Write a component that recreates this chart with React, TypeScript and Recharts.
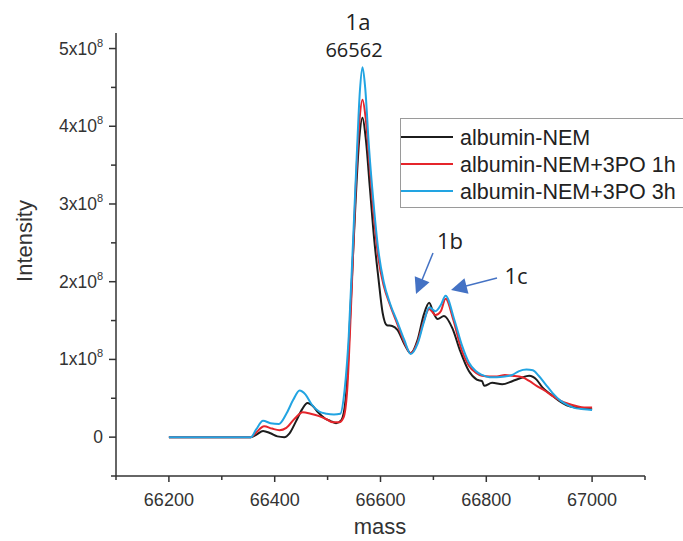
import React from 'react';
import { LineChart, Line, XAxis, YAxis } from 'recharts';

// intensity values are in units of 1x10^8
const blackMass = [66200, 66355, 66365, 66378, 66392, 66405, 66418, 66428, 66440, 66452, 66462, 66472, 66482, 66495, 66505, 66516, 66526, 66535, 66544, 66553, 66560, 66566, 66572, 66580, 66588, 66596, 66604, 66612, 66622, 66632, 66645, 66657, 66670, 66682, 66692, 66700, 66708, 66720, 66736, 66750, 66767, 66782, 66792, 66796, 66811, 66830, 66849, 66865, 66881, 66895, 66906, 66922, 66937, 66952, 66968, 66985, 67000];
const blackInt = [0, 0, 0.03, 0.08, 0.05, 0.01, 0, 0.05, 0.2, 0.36, 0.44, 0.4, 0.32, 0.24, 0.21, 0.18, 0.22, 0.55, 1.75, 3.05, 3.85, 4.11, 3.85, 3.2, 2.55, 2.05, 1.6, 1.44, 1.43, 1.38, 1.2, 1.08, 1.25, 1.58, 1.73, 1.6, 1.52, 1.56, 1.4, 1.12, 0.85, 0.74, 0.72, 0.66, 0.7, 0.68, 0.72, 0.76, 0.79, 0.74, 0.64, 0.55, 0.47, 0.41, 0.38, 0.37, 0.36];

const redMass = [66200, 66355, 66365, 66380, 66395, 66409, 66422, 66438, 66453, 66468, 66484, 66498, 66510, 66522, 66530, 66537, 66545, 66553, 66560, 66566, 66572, 66580, 66588, 66596, 66606, 66618, 66632, 66645, 66657, 66670, 66682, 66692, 66704, 66714, 66723, 66738, 66752, 66767, 66780, 66792, 66806, 66820, 66835, 66849, 66868, 66882, 66895, 66910, 66925, 66940, 66955, 66970, 66985, 67000];
const redInt = [0, 0, 0.06, 0.14, 0.11, 0.09, 0.12, 0.24, 0.32, 0.3, 0.27, 0.23, 0.19, 0.19, 0.25, 0.6, 1.8, 3.2, 4.05, 4.34, 4.1, 3.45, 2.8, 2.3, 1.95, 1.7, 1.45, 1.22, 1.08, 1.22, 1.5, 1.65, 1.57, 1.62, 1.78, 1.5, 1.15, 0.92, 0.83, 0.79, 0.78, 0.78, 0.8, 0.79, 0.77, 0.72, 0.66, 0.6, 0.53, 0.47, 0.43, 0.4, 0.38, 0.38];

const blueMass = [66200, 66355, 66365, 66378, 66392, 66408, 66422, 66435, 66447, 66458, 66470, 66484, 66498, 66512, 66524, 66532, 66540, 66548, 66555, 66561, 66566, 66571, 66578, 66587, 66596, 66606, 66618, 66632, 66645, 66657, 66670, 66682, 66692, 66704, 66714, 66723, 66740, 66754, 66767, 66780, 66792, 66806, 66820, 66835, 66849, 66862, 66876, 66888, 66899, 66912, 66925, 66940, 66955, 66970, 66985, 67000];
const blueInt = [0, 0, 0.1, 0.21, 0.18, 0.17, 0.3, 0.48, 0.6, 0.55, 0.42, 0.33, 0.3, 0.29, 0.3, 0.6, 1.3, 2.5, 3.6, 4.45, 4.76, 4.5, 3.75, 3.0, 2.4, 2.0, 1.72, 1.48, 1.25, 1.07, 1.2, 1.48, 1.67, 1.62, 1.7, 1.82, 1.5, 1.18, 0.96, 0.85, 0.8, 0.77, 0.77, 0.78, 0.8, 0.85, 0.87, 0.86, 0.79, 0.68, 0.57, 0.47, 0.41, 0.37, 0.36, 0.35];

const seriesNames = ['albumin-NEM', 'albumin-NEM+3PO 1h', 'albumin-NEM+3PO 3h'];
const seriesColors = ['#1c1c1c', '#e5252b', '#22a4e2'];

const xTicks = [66100, 66200, 66300, 66400, 66500, 66600, 66700, 66800, 66900, 67000, 67100];
const yTicks = [-0.5, 0, 0.5, 1, 1.5, 2, 2.5, 3, 3.5, 4, 4.5, 5];

const toPoints = (m: number[], v: number[]) => m.map((x, i) => ({ mass: x, intensity: v[i] }));

const series = [
  { name: seriesNames[0], color: seriesColors[0], data: toPoints(blackMass, blackInt) },
  { name: seriesNames[1], color: seriesColors[1], data: toPoints(redMass, redInt) },
  { name: seriesNames[2], color: seriesColors[2], data: toPoints(blueMass, blueInt) },
];

const FONT = '"Liberation Sans", Arial, sans-serif';
const TEXT = '#333';
const AXIS = '#333';

const XTick = (props: any) => {
  const { x, y, payload } = props;
  const v = payload.value;
  const major = v % 200 === 0;
  return (
    <g>
      <line x1={x} x2={x} y1={y} y2={y + (major ? 6 : 4)} stroke={AXIS} strokeWidth={1.5} />
      {major && (
        <text x={x} y={y + 30} textAnchor="middle" fontSize={18} fill={TEXT} fontFamily={FONT}>
          {v}
        </text>
      )}
    </g>
  );
};

const YTick = (props: any) => {
  const { x, y, payload } = props;
  const v = payload.value;
  const major = Number.isInteger(v);
  return (
    <g>
      <line x1={x - (major ? 7 : 5)} x2={x} y1={y} y2={y} stroke={AXIS} strokeWidth={1.5} />
      {major && (
        <text x={x - 13} y={y + 6} textAnchor="end" fontSize={17.5} fill={TEXT} fontFamily={FONT}>
          {v === 0 ? (
            '0'
          ) : (
            <>
              <tspan>{`${v}x10`}</tspan>
              <tspan dy={-8} fontSize={11}>8</tspan>
            </>
          )}
        </text>
      )}
    </g>
  );
};

const arrowHead = (tx: number, ty: number, fx: number, fy: number) => {
  const dx = tx - fx;
  const dy = ty - fy;
  const len = Math.hypot(dx, dy);
  const ux = dx / len;
  const uy = dy / len;
  const bx = tx - ux * 16;
  const by = ty - uy * 16;
  const px = -uy * 8;
  const py = ux * 8;
  return `${tx},${ty} ${bx + px},${by + py} ${bx - px},${by - py}`;
};

const Annotations = () => (
  <svg width={683} height={541} style={{ position: 'absolute', left: 0, top: 0, pointerEvents: 'none' }}>
    <g fontFamily='"Open Sans", "Noto Sans", sans-serif' fill="#222">
      <text x={358} y={30} textAnchor="middle" fontSize={22}>1a</text>
      <text x={354} y={57} textAnchor="middle" fontSize={20}>66562</text>
      <text x={450} y={249} textAnchor="middle" fontSize={22}>1b</text>
      <text x={516} y={284} textAnchor="middle" fontSize={22}>1c</text>
    </g>
    <line x1={433} y1={253} x2={422} y2={280} stroke="#4472c4" strokeWidth={1.5} />
    <polygon points={arrowHead(416, 294, 433, 253)} fill="#4472c4" />
    <line x1={497} y1={278} x2={466} y2={286} stroke="#4472c4" strokeWidth={1.5} />
    <polygon points={arrowHead(451, 290, 497, 278)} fill="#4472c4" />
    <g fontFamily={FONT} fontSize={21.5} fill="#222">
      <rect x={400.5} y={118.5} width={300} height={89} fill="#fff" stroke="#9a9a9a" strokeWidth={1} />
      {seriesNames.map((n, i) => (
        <g key={n}>
          <line x1={401} x2={453} y1={137 + i * 27} y2={137 + i * 27} stroke={seriesColors[i]} strokeWidth={2} />
          <text x={460} y={144.5 + i * 27}>{n}</text>
        </g>
      ))}
    </g>
    <text x={24} y={241} transform="rotate(-90 24 241)" textAnchor="middle" dominantBaseline="central" fontSize={22} fill={TEXT} fontFamily={FONT}>
      Intensity
    </text>
    <text x={380} y={534} textAnchor="middle" fontSize={22} fill={TEXT} fontFamily={FONT}>mass</text>
  </svg>
);

export default function App() {
  return (
    <div style={{ position: 'fixed', left: 0, top: 0, width: 683, height: 541, background: '#fff' }}>
      <LineChart width={683} height={541} margin={{ top: 33, right: 38, bottom: 0, left: 0 }}>
        <XAxis
          dataKey="mass"
          type="number"
          domain={[66100, 67100]}
          ticks={xTicks}
          interval={0}
          height={65}
          tickSize={0}
          tickMargin={0}
          tick={<XTick />}
          stroke={AXIS}
          strokeWidth={1.5}
          allowDataOverflow
        />
        <YAxis
          type="number"
          domain={[-0.5, 5.2]}
          ticks={yTicks}
          interval={0}
          width={116}
          tickSize={0}
          tickMargin={0}
          tick={<YTick />}
          stroke={AXIS}
          strokeWidth={1.5}
          allowDataOverflow
        />
        {series.map((s) => (
          <Line
            key={s.name}
            data={s.data}
            dataKey="intensity"
            name={s.name}
            type="monotone"
            stroke={s.color}
            strokeWidth={2}
            dot={false}
            isAnimationActive={false}
          />
        ))}
      </LineChart>
      <Annotations />
    </div>
  );
}
